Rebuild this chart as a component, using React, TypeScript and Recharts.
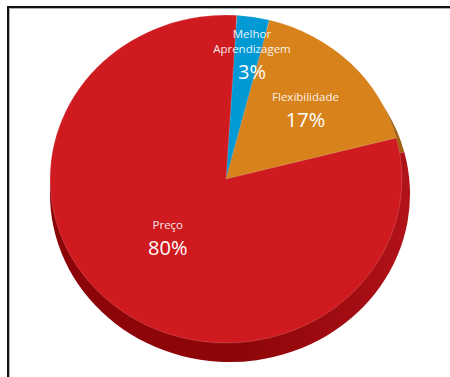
import { PieChart, Pie, Cell } from "recharts";

// survey answers, share of respondents (%)
const categories = ["Melhor Aprendizagem", "Flexibilidade", "Preço"];
const shares = [3, 17, 80];
const shareLabels = ["3%", "17%", "80%"];

const topColors = ["#0299d5", "#d8821c", "#cf1a20"];
const sideColors = ["#006e9b", "#a05f12", "url(#sideRed)"];
// how far out (fraction of the radius) each label block sits, plus a small nudge
const labelDistance = [0.77, 0.64, 0.52];
const labelNudge = [
  [5, 0],
  [0, 5],
  [0, -7],
];

const CX = 226;
const CY = 179;
const RX = 176;
const RY = 164;
const START = 86.5;

const data = categories.map((name, i) => ({ name, value: shares[i] }));

const RAD = Math.PI / 180;

function ellipseSector(cx: number, cy: number, rx: number, ry: number, a0: number, a1: number) {
  const x0 = cx + rx * Math.cos(a0 * RAD);
  const y0 = cy - ry * Math.sin(a0 * RAD);
  const x1 = cx + rx * Math.cos(a1 * RAD);
  const y1 = cy - ry * Math.sin(a1 * RAD);
  const large = Math.abs(a1 - a0) > 180 ? 1 : 0;
  const sweep = a1 < a0 ? 1 : 0;
  return `M${cx},${cy} L${x0},${y0} A${rx},${ry} 0 ${large} ${sweep} ${x1},${y1} Z`;
}

const topShape = (props: any) => {
  const ry = (props.outerRadius * RY) / RX;
  return (
    <path
      d={ellipseSector(props.cx, props.cy, props.outerRadius, ry, props.startAngle, props.endAngle)}
      fill={props.fill}
      stroke="rgba(255,255,255,0.22)"
      strokeWidth={0.7}
    />
  );
};

// bottom of the "3d" disc, a bit larger and lower than the top face
const sideShape = (props: any) => {
  const ry = props.outerRadius * (168 / 180);
  return (
    <path
      d={ellipseSector(props.cx, props.cy, props.outerRadius, ry, props.startAngle, props.endAngle)}
      fill={props.fill}
    />
  );
};

const renderLabel = (props: any) => {
  const { cx, cy, midAngle, outerRadius, index } = props;
  const f = labelDistance[index];
  const x = cx + outerRadius * f * Math.cos(midAngle * RAD) + labelNudge[index][0];
  const y = cy - ((outerRadius * RY) / RX) * f * Math.sin(midAngle * RAD) + labelNudge[index][1];
  const words = categories[index].split(" ");
  const nameLines = words.length > 1 ? words : [categories[index]];
  const total = nameLines.length * 15 + 25;
  const top = y - total / 2;
  return (
    <g fontFamily="'Open Sans', sans-serif" fill="#ffffff" textAnchor="middle">
      {nameLines.map((line, i) => (
        <text key={i} x={x} y={top + 15 * i + 11} fontSize={11.5} fillOpacity={0.92}>
          {line}
        </text>
      ))}
      <text x={x} y={top + nameLines.length * 15 + 22} fontSize={20}>
        {shareLabels[index]}
      </text>
    </g>
  );
};

export default function App() {
  return (
    <div style={{ position: "fixed", left: 0, top: 0, width: 450, height: 377, background: "#ffffff" }}>
      <PieChart width={450} height={377} margin={{ top: 0, right: 0, bottom: 0, left: 0 }}>
        <defs>
          <linearGradient id="sideRed" x1="0" y1="0" x2="1" y2="0">
            <stop offset="0" stopColor="#8b0407" />
            <stop offset="0.55" stopColor="#8f0609" />
            <stop offset="0.8" stopColor="#9f0c11" />
            <stop offset="1" stopColor="#b11319" />
          </linearGradient>
        </defs>
        {/* frame: dark top and left edges with a light inner line */}
        <path d="M9.5,377 V8.5 H450" fill="none" stroke="#b0b0b0" strokeWidth={1} />
        <path d="M8,377 V7 H450" fill="none" stroke="#111111" strokeWidth={2} />
        <Pie
          data={data}
          dataKey="value"
          nameKey="name"
          cx={CX + 4}
          cy={CY + 15}
          outerRadius={180}
          startAngle={START}
          endAngle={START - 360}
          stroke="none"
          shape={sideShape}
          activeShape={sideShape}
          inactiveShape={sideShape}
          isAnimationActive={false}
        >
          {data.map((d, i) => (
            <Cell key={d.name} fill={sideColors[i]} />
          ))}
        </Pie>
        <Pie
          data={data}
          dataKey="value"
          nameKey="name"
          cx={CX}
          cy={CY}
          outerRadius={RX}
          startAngle={START}
          endAngle={START - 360}
          stroke="none"
          shape={topShape}
          activeShape={topShape}
          inactiveShape={topShape}
          label={renderLabel}
          labelLine={false}
          isAnimationActive={false}
        >
          {data.map((d, i) => (
            <Cell key={d.name} fill={topColors[i]} />
          ))}
        </Pie>
      </PieChart>
    </div>
  );
}
